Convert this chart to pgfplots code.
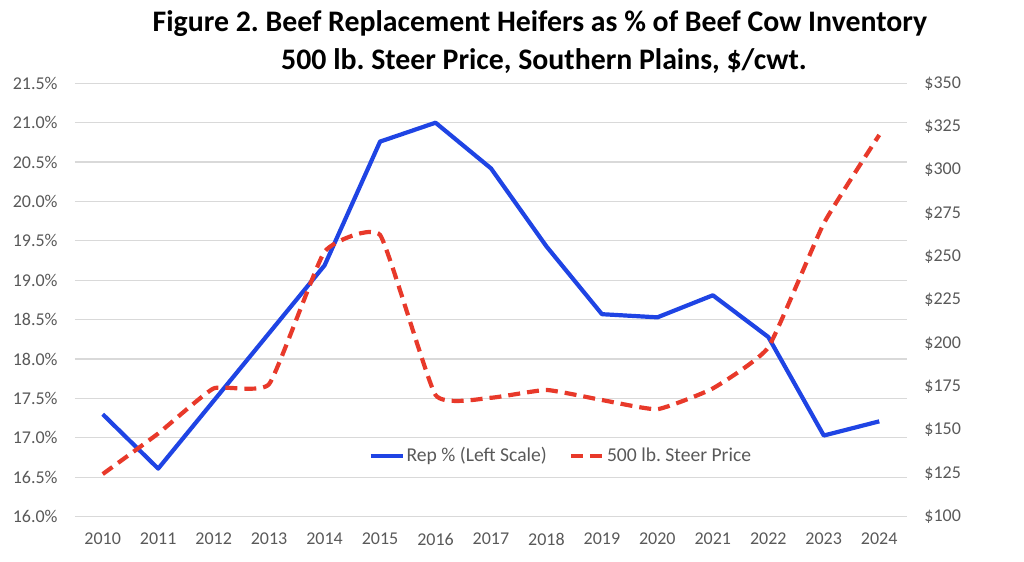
\documentclass[border=0pt]{standalone}
\usepackage{pgfplots}
\pgfplotsset{compat=1.18}
\usepackage{fontspec}
\setmainfont{Carlito}
\frenchspacing
\definecolor{repblue}{HTML}{1F44E4}
\definecolor{steerred}{HTML}{E8392A}
\definecolor{ticktext}{HTML}{595959}
\definecolor{gridgray}{HTML}{D9D9D9}
\begin{document}
\begin{tikzpicture}
\useasboundingbox (0,0) rectangle (512pt,281pt);
\node[anchor=base,font=\bfseries\fontsize{14.9pt}{18pt}\selectfont] at (270pt,265pt) {Figure 2. Beef Replacement Heifers as \% of Beef Cow Inventory};
\node[anchor=base,font=\bfseries\fontsize{14.9pt}{18pt}\selectfont] at (272pt,246pt) {500 lb. Steer Price, Southern Plains, \$/cwt.};
\begin{axis}[
  at={(37.5pt,22.65pt)}, anchor=south west,
  scale only axis, width=416pt, height=216.7pt,
  xmin=2009.5, xmax=2024.5,
  ymin=16, ymax=21.5,
  xtick={2010,...,2024},
  ytick={16,16.5,...,21.5},
  axis x line*=bottom, axis y line*=left,
  axis line style={draw=none},
  major tick length=0pt,
  ymajorgrids, grid style={gridgray, line width=0.6pt},
  /pgf/number format/assume math mode=true,
  xticklabel={\pgfmathprintnumber[1000 sep={}]{\tick}},
  yticklabel={\pgfmathprintnumber[fixed,fixed zerofill,precision=1]{\tick}\%},
  tick label style={font=\fontsize{9pt}{11pt}\selectfont, text=ticktext, inner sep=0pt},
  yticklabel shift=8.5pt,
  xticklabel shift=8pt,
]
\addplot[repblue, line width=2.1pt, line join=round] coordinates {
(2010,17.30) (2011,16.61) (2012,17.47) (2013,18.33) (2014,19.19) (2015,20.76)
(2016,21.00) (2017,20.42) (2018,19.43) (2019,18.57) (2020,18.53) (2021,18.81)
(2022,18.28) (2023,17.03) (2024,17.21)
};
\end{axis}
\begin{axis}[
  at={(37.5pt,22.65pt)}, anchor=south west,
  scale only axis, width=416pt, height=216.7pt,
  xmin=2009.5, xmax=2024.5,
  ymin=100, ymax=350,
  ytick={100,125,...,350},
  axis x line=none, axis y line*=right,
  axis line style={draw=none},
  major tick length=0pt,
  /pgf/number format/assume math mode=true,
  yticklabel={\$\pgfmathprintnumber{\tick}},
  yticklabel style={anchor=west},
  tick label style={font=\fontsize{9pt}{11pt}\selectfont, text=ticktext, inner sep=0pt},
  yticklabel shift=8.5pt,
  legend style={at={(rel axis cs:0.345,0.1407)}, anchor=west, draw=none, fill=none,
    font=\fontsize{9.8pt}{11pt}\selectfont, text=ticktext, legend columns=2,
    nodes={inner xsep=1pt},
    /tikz/every even column/.append style={column sep=10pt}},
  legend cell align=left,
  legend image code/.code={\draw[#1] (0pt,0pt) -- (16pt,0pt);},
]
\addlegendimage{repblue, line width=2.1pt}
\addlegendentry{Rep \% (Left Scale)}
\addplot[steerred, line width=2.1pt, dash pattern=on 6pt off 3.5pt, smooth, tension=0.25] coordinates {
(2010,124.6) (2011,148) (2012,174) (2013,176.5) (2014,252.9) (2015,262.5)
(2016,170.2) (2017,168.6) (2018,173.1) (2019,167.3) (2020,162) (2021,174)
(2022,197.7) (2023,269.2) (2024,320.2)
};
\addlegendentry{500 lb. Steer Price}
\end{axis}
\end{tikzpicture}
\end{document}
